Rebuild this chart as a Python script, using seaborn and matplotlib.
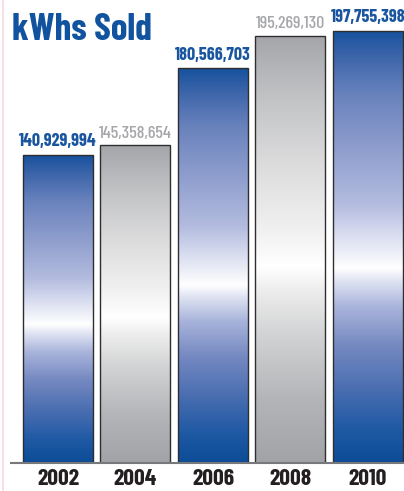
import numpy as np
import matplotlib
matplotlib.use("Agg")
import matplotlib.pyplot as plt
from matplotlib.colors import LinearSegmentedColormap
import seaborn as sns
import pandas as pd

years = ["2002", "2004", "2006", "2008", "2010"]
kwhs = [140929994, 145358654, 180566703, 195269130, 197755398]
bar_kind = ["blue", "gray", "blue", "gray", "blue"]
title = "kWhs Sold"

sns.set_theme(style="white")
FONT = ["Barlow Condensed", "DejaVu Sans"]
plt.rcParams["font.family"] = FONT

df = pd.DataFrame({"year": years, "kwh": kwhs})

fig = plt.figure(figsize=(4.04, 4.91), dpi=100)
ax = fig.add_axes([11 / 404, 28 / 491, 393 / 404, 463 / 491])

sns.barplot(data=df, x="year", y="kwh", ax=ax, width=0.903,
            facecolor="none", edgecolor="#2e2e30", linewidth=1.0)

blue_cmap = LinearSegmentedColormap.from_list("bl", [
    (0.00, "#0d4c97"), (0.07, "#1d58a3"), (0.17, "#4a6eb1"), (0.27, "#7589c1"),
    (0.36, "#a9b4db"), (0.42, "#dfe3f2"), (0.45, "#ffffff"),
    (0.50, "#e6e9f5"), (0.60, "#b3bcdf"), (0.72, "#909fce"),
    (0.85, "#6a83bd"), (0.94, "#3d65aa"), (1.00, "#17529e")])
gray_cmap = LinearSegmentedColormap.from_list("gr", [
    (0.00, "#a2a3a7"), (0.15, "#b4b5b8"), (0.30, "#d2d3d4"), (0.40, "#ececec"),
    (0.46, "#ffffff"), (0.55, "#f0f0f0"), (0.70, "#dcdcdd"),
    (0.85, "#c3c4c6"), (1.00, "#a5a6aa")])

grad = np.linspace(0, 1, 256).reshape(-1, 1)
for patch, kind in zip(ax.patches, bar_kind):
    x0, y0 = patch.get_x(), patch.get_y()
    w, h = patch.get_width(), patch.get_height()
    cmap = blue_cmap if kind == "blue" else gray_cmap
    im = ax.imshow(grad, cmap=cmap, aspect="auto", origin="lower",
                   extent=[x0, x0 + w, y0, y0 + h], zorder=1.5,
                   interpolation="bilinear")
    im.set_clip_path(patch)
    patch.set_zorder(2)

ax.set_xlim(-0.606, 4.465)
ax.set_ylim(0, 211.9e6)

for i, (v, kind) in enumerate(zip(kwhs, bar_kind)):
    col = "#1a56a0" if kind == "blue" else "#a6a7ab"
    wt = "bold" if kind == "blue" else "medium"
    ax.annotate(f"{v:,}", xy=(i, v), xytext=(0, 3.5), textcoords="offset points",
                ha="center", va="bottom", fontsize=13, fontweight=wt,
                color=col, family=FONT)

ax.set_xlabel("")
ax.set_ylabel("")
ax.set_yticks([])
ax.tick_params(axis="x", length=0, pad=4)
for lab in ax.get_xticklabels():
    lab.set_fontsize(17)
    lab.set_fontweight("bold")
    lab.set_color("#231f20")
    lab.set_family(FONT)

for s in ["top", "right", "left"]:
    ax.spines[s].set_visible(False)
ax.spines["bottom"].set_color("#77787b")
ax.spines["bottom"].set_linewidth(1.5)
ax.set_facecolor("white")

fig.text(12 / 404, 1 - 13 / 491, title, ha="left", va="top", fontsize=27,
         fontweight="bold", color="#1253a0", family=FONT)

fig.add_artist(plt.Line2D([2.5 / 404, 2.5 / 404], [0, 1], color="#f7d9e3",
                          lw=1.2, transform=fig.transFigure))

fig.savefig("out.png", dpi=100)
